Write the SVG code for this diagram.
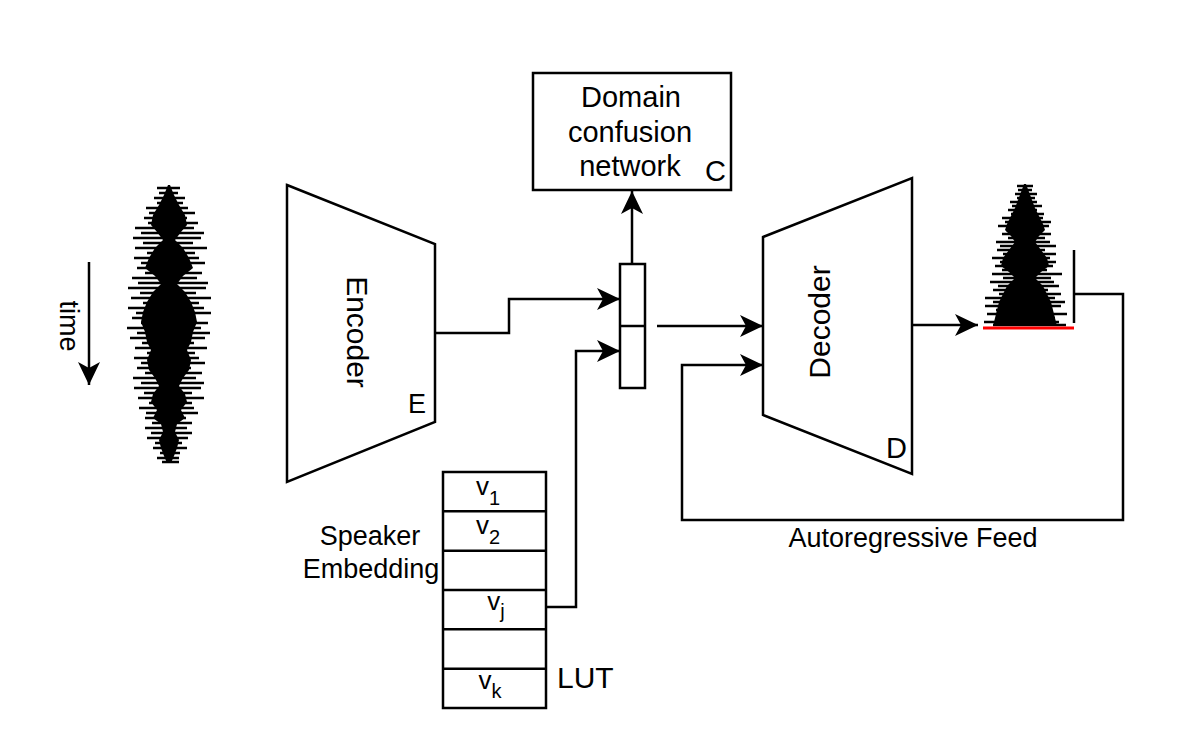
<svg xmlns="http://www.w3.org/2000/svg" width="1200" height="747" viewBox="0 0 1200 747">
<style>
.s{fill:none;stroke:#000;stroke-width:2.5}
.b{fill:#fff;stroke:#000;stroke-width:2.5}
.t{font-family:"Liberation Sans",Arial,sans-serif;font-size:27px;fill:#000}
.big{font-size:29px}
.rot{font-size:30px}
.v{font-size:26px}
.sub{font-size:20px}
.sp{fill:none;stroke:#000;stroke-width:2.6}
</style>
<defs>
<marker id="ah" viewBox="0 0 23 22" refX="23" refY="11" markerWidth="23" markerHeight="22" markerUnits="userSpaceOnUse" orient="auto">
<path d="M0,0 L23,11 L0,22 L6,11 Z" fill="#000"/>
</marker>
</defs>
<rect width="1200" height="747" fill="#fff"/>

<g id="input-waveform">
<polygon fill="#000" points="170,185 174,195 179,205 185,215 187,225 181,232 175,240 183,248 189,258 193,268 183,276 177,284 185,292 191,302 195,312 197,322 193,332 191,342 187,350 191,360 189,370 183,378 179,386 185,394 187,402 181,410 185,418 177,424 175,432 179,440 177,448 174,456 171,463 167,463 164,456 161,448 159,440 163,432 161,424 153,418 157,410 151,402 153,394 159,386 155,378 149,370 147,360 151,350 147,342 145,332 141,322 143,312 147,302 153,292 161,284 155,276 145,268 149,258 155,248 163,240 157,232 151,225 153,215 159,205 164,195 168,185"/>
<path class="sp" d="M157,188H180M159,193H178M154,198H185M157,203H183M146,208H188M149,213H195M144,218H187M148,223H198M135,228H194M141,233H204M133,238H201M143,243H193M135,248H207M147,253H195M134,258H199M141,263H205M137,268H191M145,273H202M132,278H197M138,283H208M128,288H206M140,293H196M131,298H211M143,303H199M128,308H204M136,313H211M132,318H195M141,323H208M127,328H201M137,333H210M130,338H205M142,343H194M135,348H207M147,353H195M134,358H199M141,363H205M137,368H191M145,373H202M133,378H196M141,383H204M134,388H201M144,393H192M138,398H204M149,403H192M139,408H194M146,413H198M145,418H186M152,423H192M145,428H187M151,433H192M147,438H188M155,443H182M153,448H187M160,453H180M157,458H179M162,462H179"/>
</g>

<g id="time-axis">
<path class="s" d="M89,262 V385" marker-end="url(#ah)"/>
<text class="t" x="60" y="326" text-anchor="middle" transform="rotate(90 60 326)">time</text>
</g>

<g id="encoder">
<polygon class="b" points="287,185 435,244 435,422 287,482"/>
<text class="t rot" x="347" y="332" text-anchor="middle" transform="rotate(90 347 332)">Encoder</text>
<text class="t" x="408" y="413">E</text>
</g>

<g id="domain-confusion">
<rect class="b" x="533" y="73" width="198" height="117"/>
<text class="t big" x="631" y="107" text-anchor="middle">Domain</text>
<text class="t big" x="630" y="142" text-anchor="middle">confusion</text>
<text class="t big" x="630" y="176" text-anchor="middle">network</text>
<text class="t big" x="705" y="181">C</text>
</g>

<g id="concat">
<rect class="b" x="620" y="264" width="25" height="124"/>
<path class="s" d="M620,326 H645"/>
</g>

<g id="decoder">
<polygon class="b" points="763,237 912,178 912,474 763,415"/>
<text class="t rot" x="830" y="322" text-anchor="middle" transform="rotate(-90 830 322)">Decoder</text>
<text class="t big" x="886" y="458">D</text>
</g>

<g id="output-waveform">
<polygon fill="#000" points="1026,184 1029,192 1032,200 1035,208 1039,216 1043,224 1045,230 1039,236 1035,242 1041,250 1047,258 1049,266 1041,272 1035,278 1043,286 1047,294 1051,302 1053,310 1055,318 1057,326 993,326 995,318 997,310 999,302 1003,294 1007,286 1015,278 1009,272 1001,266 1003,258 1009,250 1015,242 1011,236 1005,230 1007,224 1011,216 1015,208 1018,200 1021,192 1024,184"/>
<path class="sp" d="M1017,186H1033M1018,190H1032M1015,194H1037M1017,198H1035M1010,202H1037M1012,206H1042M1008,210H1037M1011,214H1044M1002,218H1043M1005,222H1051M998,226H1049M1006,230H1042M1002,234H1051M1008,238H1045M996,242H1050M1000,246H1056M997,250H1045M1003,254H1056M992,258H1050M1000,262H1056M995,266H1053M1002,270H1047M992,274H1062M1003,278H1051M990,282H1054M998,286H1059M993,290H1048M999,294H1061M985,298H1055M993,302H1065M985,306H1061M996,310H1052M987,314H1067M1000,318H1055M984,322H1059M993,325H1066"/>
<path d="M983,328 H1074" fill="none" stroke="#ff0000" stroke-width="3"/>
<path class="s" d="M1074,250 V323"/>
</g>

<g id="speaker-embedding">
<rect class="b" x="443" y="472" width="103" height="236"/>
<path class="s" d="M443,511.3H546M443,550.7H546M443,590H546M443,629.3H546M443,668.7H546"/>
<text class="t" x="370" y="545" text-anchor="middle">Speaker</text>
<text class="t" x="371" y="578" text-anchor="middle">Embedding</text>
<text class="t v" x="488" y="495" text-anchor="middle">v<tspan class="sub" dy="10">1</tspan></text>
<text class="t v" x="488" y="534" text-anchor="middle">v<tspan class="sub" dy="10">2</tspan></text>
<text class="t v" x="496" y="610" text-anchor="middle">v<tspan class="sub" dy="8">j</tspan></text>
<text class="t v" x="490" y="689" text-anchor="middle">v<tspan class="sub" dy="9">k</tspan></text>
<text class="t rot" x="557" y="688">LUT</text>
</g>

<g id="connectors">
<path class="s" d="M435,333 H509 V299 H620" marker-end="url(#ah)"/>
<path class="s" d="M546,607 H576 V351 H620" marker-end="url(#ah)"/>
<path class="s" d="M632,264 V191" marker-end="url(#ah)"/>
<path class="s" d="M657,326 H763" marker-end="url(#ah)"/>
<path class="s" d="M912,325 H978" marker-end="url(#ah)"/>
<path class="s" d="M1074,294 H1123 V520 H682 V365 H763" marker-end="url(#ah)"/>
</g>
<text class="t" x="913" y="547" text-anchor="middle">Autoregressive Feed</text>
</svg>
